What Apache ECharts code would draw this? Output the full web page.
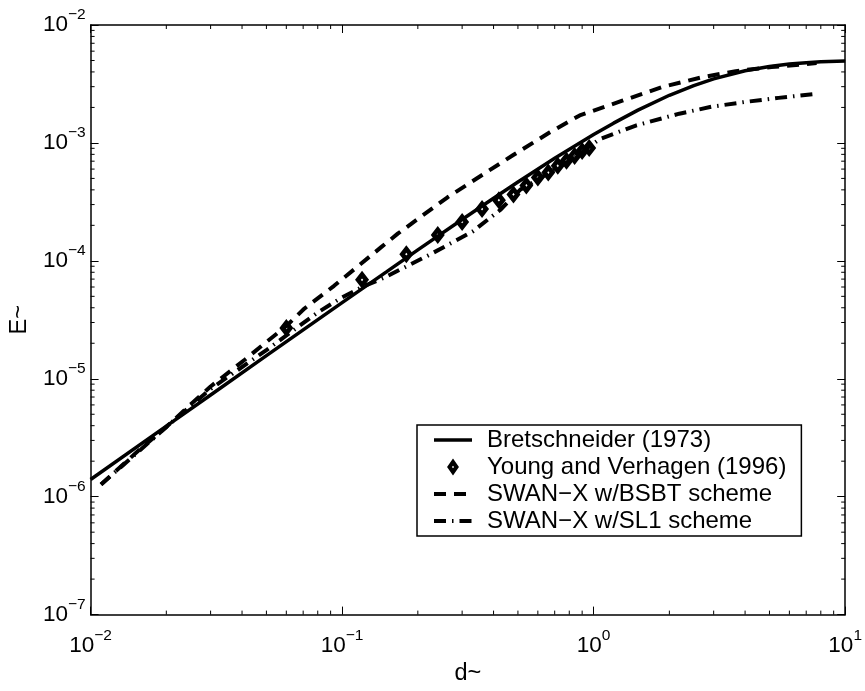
<!DOCTYPE html>
<html><head><meta charset="utf-8">
<script src="https://cdn.jsdelivr.net/npm/echarts@6/dist/echarts.min.js"></script>
<style>html,body{margin:0;padding:0;background:#fff}#c{width:865px;height:691px}</style>
</head><body><div id="c"></div>
<script>
// ---- data ----
const seriesNames = ['Bretschneider (1973)', 'Young and Verhagen (1996)', 'SWAN\u2212X w/BSBT scheme', 'SWAN\u2212X w/SL1 scheme'];

const bretschneider = [
  [0.01,1.40e-6],[0.02,3.97e-6],[0.03,7.29e-6],[0.05,1.57e-5],[0.1,4.42e-5],[0.15,8.07e-5],
  [0.2,1.24e-4],[0.3,2.24e-4],[0.4,3.39e-4],[0.5,4.66e-4],[0.7,7.40e-4],[1.0,1.178e-3],
  [1.2,1.471e-3],[1.5,1.896e-3],[2.0,2.536e-3],[2.5,3.066e-3],[3.0,3.496e-3],[4.0,4.095e-3],
  [5.0,4.455e-3],[6.0,4.666e-3],[7.0,4.795e-3],[8.0,4.873e-3],[10.0,4.95e-3]
];

const youngVerhagen = [
  [0.06,2.70e-5],[0.12,6.90e-5],[0.18,1.14e-4],[0.24,1.66e-4],[0.30,2.14e-4],[0.36,2.75e-4],
  [0.42,3.27e-4],[0.48,3.66e-4],[0.54,4.36e-4],[0.60,5.08e-4],[0.66,5.60e-4],[0.72,6.40e-4],
  [0.78,7.05e-4],[0.84,7.76e-4],[0.90,8.55e-4],[0.96,9.06e-4]
];

const swanBSBT = [
  [0.011,1.27e-6],[0.0158,2.55e-6],[0.02,3.9e-6],[0.0253,6.2e-6],[0.03,8.6e-6],[0.041,1.45e-5],
  [0.05,2.05e-5],[0.06,2.8e-5],[0.0708,3.94e-5],[0.0929,6.14e-5],[0.1426,1.30e-4],[0.1664,1.70e-4],
  [0.2625,3.46e-4],[0.479,7.9e-4],[0.67,1.23e-3],[0.88,1.71e-3],[1.3,2.28e-3],[1.875,2.98e-3],
  [2.7,3.61e-3],[3.67,4.06e-3],[5.1,4.40e-3],[7.7,4.75e-3]
];

const swanSL1 = [
  [0.011,1.27e-6],[0.0158,2.5e-6],[0.02,3.9e-6],[0.03,8.2e-6],[0.05,1.75e-5],[0.08,3.65e-5],
  [0.1,4.9e-5],[0.12,6.0e-5],[0.147,7.2e-5],[0.225,1.14e-4],[0.33,1.77e-4],[0.425,2.7e-4],
  [0.51,4.0e-4],[0.6,4.9e-4],[0.72,6.2e-4],[0.84,7.5e-4],[0.96,9.3e-4],[1.06,1.08e-3],
  [1.48,1.41e-3],[2.19,1.77e-3],[2.95,2.03e-3],[4.03,2.23e-3],[5.43,2.41e-3],[7.67,2.61e-3]
];

const xMinorTicks = [0.02,0.03,0.04,0.05,0.06,0.07,0.08,0.09,0.2,0.3,0.4,0.5,0.6,0.7,0.8,0.9,2,3,4,5,6,7,8,9];
const yMinorTicks = [2e-7,3e-7,4e-7,5e-7,6e-7,7e-7,8e-7,9e-7,2e-6,3e-6,4e-6,5e-6,6e-6,7e-6,8e-6,9e-6,
  2e-5,3e-5,4e-5,5e-5,6e-5,7e-5,8e-5,9e-5,2e-4,3e-4,4e-4,5e-4,6e-4,7e-4,8e-4,9e-4,
  2e-3,3e-3,4e-3,5e-3,6e-3,7e-3,8e-3,9e-3];

const xMin = 0.01, xMax = 10, yMin = 1e-7, yMax = 1e-2;

// ---- chart ----
const FONT = '"Liberation Sans", Arial, Helvetica, sans-serif';
function sup(v) {
  const e = Math.round(Math.log10(v));
  return '{a|10}{b|' + (e < 0 ? '\u2212' + (-e) : String(e)) + '}';
}
const rich = {
  a: { fontSize: 22.5, fontFamily: FONT, color: '#000' },
  b: { fontSize: 15.5, fontFamily: FONT, color: '#000', padding: [0, 0, 20, 0] }
};
const axisLine = { show: true, lineStyle: { color: '#000', width: 1.5 } };
const tick = { show: true, inside: true, length: 8, lineStyle: { color: '#000', width: 1 } };

function minorX(params, api) {
  const v = api.value(0);
  const b = api.coord([v, yMin]);
  const t = api.coord([v, yMax]);
  const st = { stroke: '#000', lineWidth: 1 };
  return { type: 'group', children: [
    { type: 'line', shape: { x1: b[0], y1: b[1], x2: b[0], y2: b[1] - 4 }, style: st },
    { type: 'line', shape: { x1: t[0], y1: t[1], x2: t[0], y2: t[1] + 4 }, style: st }
  ]};
}
function minorY(params, api) {
  const v = api.value(1);
  const l = api.coord([xMin, v]);
  const r = api.coord([xMax, v]);
  const st = { stroke: '#000', lineWidth: 1 };
  return { type: 'group', children: [
    { type: 'line', shape: { x1: l[0], y1: l[1], x2: l[0] + 4, y2: l[1] }, style: st },
    { type: 'line', shape: { x1: r[0], y1: r[1], x2: r[0] - 4, y2: r[1] }, style: st }
  ]};
}

const diamond = 'path://M0,-10 L7,0 L0,10 L-7,0 Z M0,-1.6 L-1.2,0 L0,1.6 L1.2,0 Z';
const noSym = { opacity: 0, color: 'rgba(0,0,0,0)', borderWidth: 0 };

const option = {
  animation: false,
  backgroundColor: '#fff',
  grid: { left: 88, right: 18, top: 25, bottom: 67, containLabel: false },
  xAxis: [
    { type: 'log', logBase: 10, min: xMin, max: xMax, position: 'bottom',
      axisLine, axisTick: tick, splitLine: { show: false },
      axisLabel: { formatter: sup, rich, margin: 13 },
      name: 'd~', nameLocation: 'middle', nameGap: 47,
      nameTextStyle: { fontSize: 23.5, fontFamily: FONT, color: '#000' } },
    { type: 'log', logBase: 10, min: xMin, max: xMax, position: 'top',
      axisLine, axisTick: tick, splitLine: { show: false }, axisLabel: { show: false } }
  ],
  yAxis: [
    { type: 'log', logBase: 10, min: yMin, max: yMax, position: 'left',
      axisLine, axisTick: tick, splitLine: { show: false },
      axisLabel: { formatter: sup, rich, margin: 5 },
      name: 'E~', nameLocation: 'middle', nameGap: 55,
      nameTextStyle: { fontSize: 23.5, fontFamily: FONT, color: '#000' } },
    { type: 'log', logBase: 10, min: yMin, max: yMax, position: 'right',
      axisLine, axisTick: tick, splitLine: { show: false }, axisLabel: { show: false } }
  ],
  legend: {
    orient: 'vertical', left: 417, top: 425,
    itemWidth: 38, itemHeight: 17, itemGap: 3,
    padding: [3, 15, 3, 15],
    borderColor: '#000', borderWidth: 1.5, backgroundColor: '#fff',
    textStyle: { fontSize: 24, fontFamily: FONT, color: '#000', lineHeight: 24, padding: [0, 0, 0, 10] },
    data: [
      { name: seriesNames[0], lineStyle: { width: 3.5 }, itemStyle: noSym },
      { name: seriesNames[1] },
      { name: seriesNames[2], lineStyle: { width: 4 }, itemStyle: noSym },
      { name: seriesNames[3], lineStyle: { width: 4 }, itemStyle: noSym }
    ]
  },
  series: [
    { name: seriesNames[0], type: 'line', data: bretschneider, symbol: 'none',
      lineStyle: { color: '#000', width: 3.5, type: 'solid' }, itemStyle: { color: '#000' } },
    { name: seriesNames[1], type: 'scatter', data: youngVerhagen, symbol: diamond, symbolSize: [14, 18],
      itemStyle: { color: '#000', opacity: 1 } },
    { name: seriesNames[2], type: 'line', data: swanBSBT, symbol: 'none',
      lineStyle: { color: '#000', width: 4, type: [12, 8], cap: 'butt' }, itemStyle: { color: '#000' } },
    { name: seriesNames[3], type: 'line', data: swanSL1, symbol: 'none',
      lineStyle: { color: '#000', width: 4, type: [12, 6, 1.5, 6], cap: 'butt' }, itemStyle: { color: '#000' } },
    { type: 'custom', name: 'xminor', renderItem: minorX, data: xMinorTicks.map(v => [v, yMin]), silent: true, clip: false },
    { type: 'custom', name: 'yminor', renderItem: minorY, data: yMinorTicks.map(v => [xMin, v]), silent: true, clip: false }
  ]
};
const chart = echarts.init(document.getElementById('c'), null, { renderer: 'canvas' });
chart.setOption(option);
</script>
</body></html>
